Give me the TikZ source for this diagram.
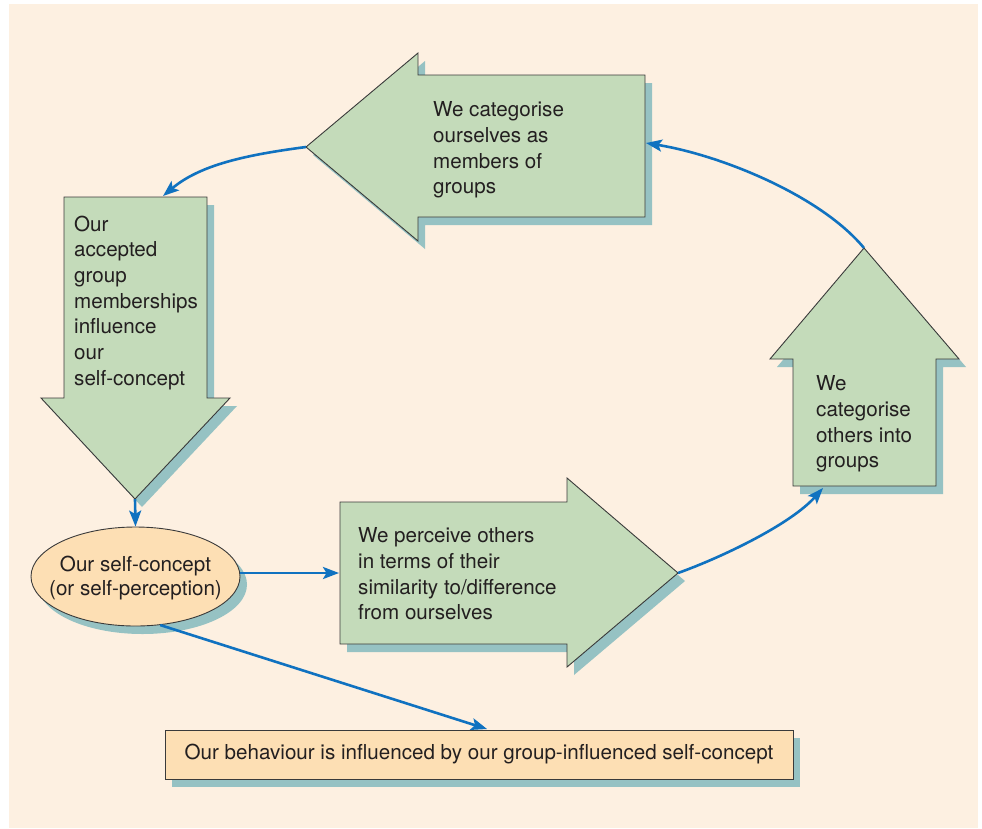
\documentclass[tikz,border=0pt]{standalone}
\usepackage{fontspec}
\setmainfont{TeX Gyre Heros}
\usetikzlibrary{arrows.meta,shapes.geometric}
\definecolor{panelc}{HTML}{FDF0E1}
\definecolor{greenc}{HTML}{C4DBBA}
\definecolor{shadowc}{HTML}{96C2C3}
\definecolor{orangec}{HTML}{FDDFB4}
\definecolor{bluec}{HTML}{1072C0}
\definecolor{inkc}{HTML}{231F20}
\definecolor{edgec}{HTML}{3A3A3A}
\begin{document}
\begin{tikzpicture}[x=1pt,y=-1pt,
  shapebody/.style={fill=greenc, draw=edgec, line width=0.9pt, line join=miter},
  shapeshadow/.style={fill=shadowc, shift={(7,8)}},
  label/.style={font=\fontsize{20.6}{25.7}\selectfont, text=inkc, align=left, inner sep=0pt, anchor=north west},
  link/.style={draw=bluec, line width=2.6pt, -{Stealth[length=16pt,width=12pt,inset=3.5pt]}}
]
\useasboundingbox (0,0) rectangle (982,828);
\fill[white] (0,0) rectangle (982,828);
\fill[panelc] (9,4) rectangle (978,828);

% --- block arrows: shadows first, then bodies ---
\def\shapeA{(64,197) -- (207,197) -- (207,398) -- (230,398) -- (135,499) -- (41,398) -- (64,398) -- cycle}
\def\shapeB{(306,147) -- (418,53) -- (418,75) -- (645,75) -- (645,217) -- (418,217) -- (418,241) -- cycle}
\def\shapeC{(864,248) -- (959,359) -- (936,359) -- (936,486) -- (793,486) -- (793,359) -- (770,359) -- cycle}
\def\shapeD{(340,502) -- (567,502) -- (567,478) -- (678,573) -- (567,667) -- (567,644) -- (340,644) -- cycle}
\fill[shapeshadow] \shapeA;
\fill[shapeshadow] \shapeB;
\fill[shapeshadow] \shapeC;
\fill[shapeshadow] \shapeD;
\path[shapebody] \shapeA;
\path[shapebody] \shapeB;
\path[shapebody] \shapeC;
\path[shapebody] \shapeD;

% connector end points on the block arrows
\coordinate (downtip) at (135,499);
\coordinate (downtop) at (163,196);
\coordinate (lefttip) at (306,147);
\coordinate (leftside) at (646,143);
\coordinate (uptip) at (864,248);
\coordinate (upbase) at (823,488);
\coordinate (righttip) at (678,573);
\coordinate (rightside) at (339,573);

% --- texts inside the block arrows ---
\node[label] (tmember) at (433,101.5) {We categorise\\ourselves as\\members of\\groups};
\node[label] (tinfluence) at (74,215.5) {Our\\accepted\\group\\memberships\\influence\\our\\self-concept};
\node[label] (tothers) at (816,375.5) {We\\categorise\\others into\\groups};
\node[label] (tperceive) at (358,527.5) {We perceive others\\in terms of their\\similarity to/difference\\from ourselves};

% --- self-concept ellipse ---
\fill[shadowc] (142.5,584.5) ellipse [x radius=104.5, y radius=49.5];
\node[ellipse, fill=orangec, draw=edgec, line width=0.9pt, minimum width=209pt, minimum height=99pt,
      inner sep=0pt] (self) at (135.5,576.5) {};
\node[align=center, text=inkc, inner sep=0pt, font=\fontsize{20.6}{24}\selectfont]
  (selftext) at (135.5,578) {Our self-concept\\(or self-perception)};

% --- behaviour box ---
\fill[shadowc] (172,738) rectangle (800,787);
\node[rectangle, fill=orangec, draw=edgec, line width=0.9pt, minimum width=628pt, minimum height=49pt,
      inner sep=0pt, text=inkc, font=\fontsize{20.6}{24}\selectfont]
  (behaviour) at (479,754.5) {Our behaviour is influenced by our group-influenced self-concept};
\coordinate (behtop) at (487,729);

% --- connectors ---
\draw[link] (lefttip) .. controls (245,155) and (200,165) .. (downtop);
\draw[link] (uptip) .. controls (820,195) and (720,155) .. (leftside);
\draw[link] (righttip) .. controls (720,558) and (790,525) .. (upbase);
\draw[link] (downtip) -- (self.north);
\draw[link] (self.east |- rightside) -- (rightside);
\draw[link] (self.-63) -- (behtop);
\end{tikzpicture}
\end{document}
